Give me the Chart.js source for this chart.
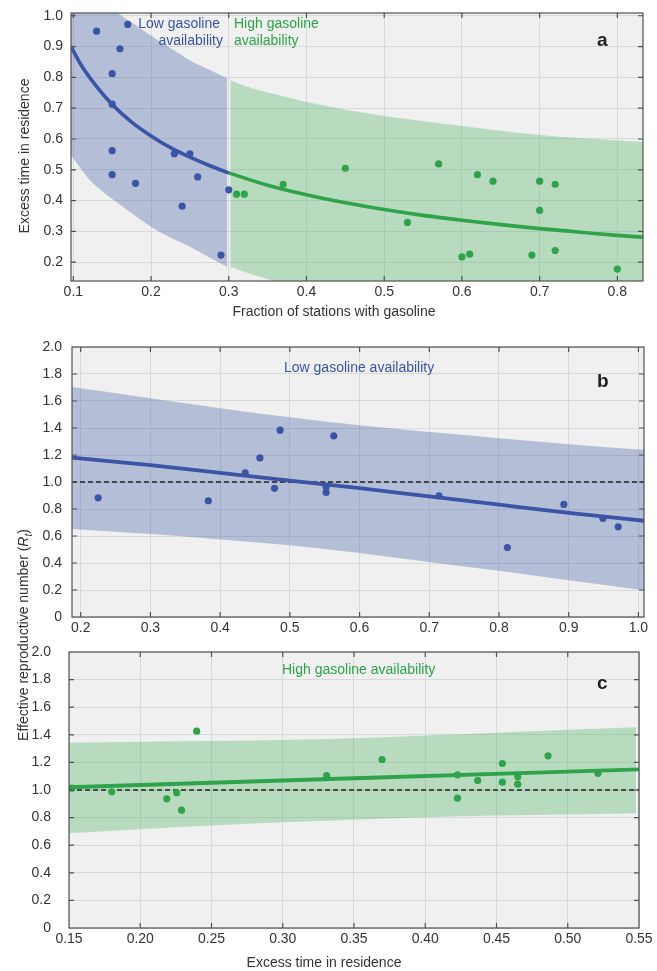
<!DOCTYPE html>
<html><head><meta charset="utf-8">
<script src="https://cdn.jsdelivr.net/npm/chart.js@4.4.1/dist/chart.umd.min.js"></script>
<style>
html,body{margin:0;padding:0;background:#fff;}
body{width:657px;height:971px;position:relative;overflow:hidden;font-family:"Liberation Sans",Arial,sans-serif;}
canvas{position:absolute;left:0;}
.t{position:absolute;font-size:14px;line-height:14px;color:#333;white-space:nowrap;}
.blue{color:#3a55a6;}
.green{color:#2ea34a;}
.lab{position:absolute;font-size:19px;line-height:19px;font-weight:bold;color:#222;}
.rot{transform:translate(-50%,-50%) rotate(-90deg);}
.ctr{transform:translateX(-50%);}
</style></head><body>
<canvas id="ca" width="657" height="305" style="top:0px;width:657px;height:305px"></canvas>
<canvas id="cb" width="657" height="305" style="top:330px;width:657px;height:305px"></canvas>
<canvas id="cc" width="657" height="331" style="top:640px;width:657px;height:331px"></canvas>

<div class="t blue" style="right:437px;top:16px">Low gasoline</div>
<div class="t blue" style="right:434px;top:33px">availability</div>
<div class="t green" style="left:234px;top:16px">High gasoline</div>
<div class="t green" style="left:234px;top:33px">availability</div>
<div class="t blue" style="left:284px;top:360px">Low gasoline availability</div>
<div class="t green" style="left:282px;top:662px">High gasoline availability</div>
<div class="lab" style="left:597px;top:30px">a</div>
<div class="lab" style="left:597px;top:371px">b</div>
<div class="lab" style="left:597px;top:673px">c</div>
<div class="t ctr" style="left:334px;top:304px">Fraction of stations with gasoline</div>
<div class="t ctr" style="left:324px;top:955px">Excess time in residence</div>
<div class="t rot" style="left:24px;top:156px">Excess time in residence</div>
<div class="t rot" style="left:23px;top:635px">Effective reproductive number (<i>R</i><sub style="font-size:10px;line-height:0"><i>t</i></sub>)</div>

<script>
// ---------- Panel a data ----------
const aLowX  = [0.13, 0.17, 0.16, 0.15, 0.15, 0.15, 0.15, 0.18, 0.23, 0.25, 0.26, 0.24, 0.30, 0.29];
const aLowY  = [0.950, 0.972, 0.893, 0.812, 0.713, 0.562, 0.484, 0.456, 0.552, 0.552, 0.477, 0.382, 0.435, 0.223];
const aHighX = [0.31, 0.32, 0.37, 0.45, 0.57, 0.62, 0.64, 0.70, 0.72, 0.70, 0.53, 0.60, 0.61, 0.69, 0.72, 0.80];
const aHighY = [0.421, 0.421, 0.453, 0.505, 0.519, 0.484, 0.463, 0.463, 0.453, 0.368, 0.329, 0.217, 0.226, 0.223, 0.238, 0.178];
const aLowFitX  = [0.097, 0.11, 0.13, 0.15, 0.175, 0.20, 0.225, 0.25, 0.275, 0.30];
const aLowFitY  = [0.90, 0.84, 0.77, 0.712, 0.655, 0.61, 0.572, 0.541, 0.514, 0.49];
const aHighFitX = [0.30, 0.35, 0.40, 0.45, 0.50, 0.55, 0.60, 0.65, 0.70, 0.75, 0.80, 0.833];
const aHighFitY = [0.49, 0.45, 0.419, 0.393, 0.371, 0.352, 0.336, 0.322, 0.309, 0.298, 0.287, 0.281];
const aLowBandX  = [0.097, 0.12, 0.14, 0.156, 0.18, 0.20, 0.225, 0.25, 0.275, 0.298];
const aLowBandUp = [1.16, 1.09, 1.04, 1.01, 0.97, 0.935, 0.895, 0.855, 0.825, 0.797];
const aLowBandLo = [0.548, 0.47, 0.425, 0.395, 0.35, 0.315, 0.28, 0.25, 0.215, 0.185];
const aHighBandX  = [0.302, 0.33, 0.36, 0.40, 0.45, 0.50, 0.60, 0.70, 0.80, 0.833];
const aHighBandUp = [0.79, 0.765, 0.745, 0.72, 0.695, 0.675, 0.642, 0.613, 0.595, 0.591];
const aHighBandLo = [0.185, 0.16, 0.138, 0.11, 0.085, 0.06, 0.02, -0.01, -0.04, -0.05];
const aXRange = [0.097, 0.833];
const aYRange = [0.139, 1.009];
const aXTicks = [0.1, 0.2, 0.3, 0.4, 0.5, 0.6, 0.7, 0.8];
const aXLabels = ["0.1", "0.2", "0.3", "0.4", "0.5", "0.6", "0.7", "0.8"];
const aYTicks = [0.2, 0.3, 0.4, 0.5, 0.6, 0.7, 0.8, 0.9, 1.0];
const aYLabels = ["0.2", "0.3", "0.4", "0.5", "0.6", "0.7", "0.8", "0.9", "1.0"];

// ---------- Panel b data ----------
const bX = [0.225, 0.383, 0.436, 0.457, 0.486, 0.478, 0.552, 0.552, 0.563, 0.714, 0.812, 0.893, 0.949, 0.971];
const bY = [0.883, 0.861, 1.067, 1.178, 1.384, 0.953, 0.923, 0.965, 1.342, 0.898, 0.515, 0.834, 0.730, 0.668];
const bFitX = [0.1875, 0.3, 0.4, 0.5, 0.6, 0.7, 0.8, 0.9, 1.008];
const bFitY = [1.18, 1.125, 1.068, 1.01, 0.955, 0.893, 0.832, 0.772, 0.713];
const bBandX  = [0.1875, 0.3, 0.4, 0.5, 0.6, 0.7, 0.8, 0.9, 1.008];
const bBandUp = [1.703, 1.621, 1.547, 1.48, 1.42, 1.37, 1.325, 1.28, 1.238];
const bBandLo = [0.651, 0.614, 0.575, 0.532, 0.475, 0.408, 0.342, 0.272, 0.198];
const bXRange = [0.1875, 1.008];
const bXTicks = [0.2, 0.3, 0.4, 0.5, 0.6, 0.7, 0.8, 0.9, 1.0];
const bXLabels = ["0.2", "0.3", "0.4", "0.5", "0.6", "0.7", "0.8", "0.9", "1.0"];

// ---------- Panel c data ----------
const cX = [0.152, 0.180, 0.2186, 0.2256, 0.229, 0.2396, 0.3308, 0.3697, 0.4226, 0.4226, 0.4368, 0.4541, 0.4541, 0.4649, 0.4649, 0.4862, 0.5212];
const cY = [1.013, 0.987, 0.936, 0.980, 0.854, 1.426, 1.105, 1.221, 1.110, 0.941, 1.069, 1.192, 1.057, 1.096, 1.042, 1.248, 1.122];
const cFitX = [0.15, 0.35, 0.55];
const cFitY = [1.02, 1.085, 1.149];
const cBandX  = [0.15, 0.20, 0.25, 0.30, 0.35, 0.40, 0.45, 0.50, 0.548];
const cBandUp = [1.342, 1.35, 1.355, 1.362, 1.375, 1.395, 1.415, 1.437, 1.455];
const cBandLo = [0.687, 0.716, 0.743, 0.767, 0.785, 0.803, 0.815, 0.823, 0.832];
const cXRange = [0.15, 0.55];
const cXTicks = [0.15, 0.20, 0.25, 0.30, 0.35, 0.40, 0.45, 0.50, 0.55];
const cXLabels = ["0.15", "0.20", "0.25", "0.30", "0.35", "0.40", "0.45", "0.50", "0.55"];

// shared Rt axis
const rYRange = [0, 2.0];
const rYTicks = [0, 0.2, 0.4, 0.6, 0.8, 1.0, 1.2, 1.4, 1.6, 1.8, 2.0];
const rYLabels = ["0", "0.2", "0.4", "0.6", "0.8", "1.0", "1.2", "1.4", "1.6", "1.8", "2.0"];
const refLevel = 1.0;

// ---------- styling ----------
const BLUE = '#3a55a6', BLUE_BAND = 'rgba(58,83,164,0.32)';
const GREEN = '#2ea34a', GREEN_BAND = 'rgba(52,168,78,0.29)';
const GRID = '#d7d9da', PLOT_BG = '#eff0ef', FRAME = '#505050';

Chart.defaults.font.family = '"Liberation Sans", Arial, sans-serif';
Chart.defaults.font.size = 14;
Chart.defaults.color = '#333';

const pts = (xs, ys) => xs.map((x, i) => ({x: x, y: ys[i]}));

const framePlugin = {
  id: 'frame',
  beforeDraw(chart) {
    const {ctx, chartArea: a} = chart;
    ctx.save();
    ctx.fillStyle = PLOT_BG;
    ctx.fillRect(a.left, a.top, a.right - a.left, a.bottom - a.top);
    ctx.restore();
  },
  afterDraw(chart) {
    const {ctx, chartArea: a, scales} = chart;
    ctx.save();
    ctx.strokeStyle = FRAME;
    ctx.lineWidth = 1.2;
    ctx.strokeRect(a.left, a.top, a.right - a.left, a.bottom - a.top);
    ctx.beginPath();
    const L = 5;
    scales.x.ticks.forEach(t => {
      const p = scales.x.getPixelForValue(t.value);
      if (p <= a.left + 1 || p >= a.right - 1) return;
      ctx.moveTo(p, a.top); ctx.lineTo(p, a.top + L);
      ctx.moveTo(p, a.bottom); ctx.lineTo(p, a.bottom - L);
    });
    scales.y.ticks.forEach(t => {
      const p = scales.y.getPixelForValue(t.value);
      if (p <= a.top + 1 || p >= a.bottom - 1) return;
      ctx.moveTo(a.left, p); ctx.lineTo(a.left + L, p);
      ctx.moveTo(a.right, p); ctx.lineTo(a.right - L, p);
    });
    ctx.stroke();
    ctx.restore();
  }
};

function axis(range, ticks, labels, size, pad) {
  return {
    type: 'linear', min: range[0], max: range[1],
    afterBuildTicks: s => { s.ticks = ticks.map(v => ({value: v})); },
    afterFit: s => {
      if (s.isHorizontal()) s.height = size; else s.width = size;
      s.paddingTop = 0; s.paddingBottom = 0; s.paddingLeft = 0; s.paddingRight = 0;
    },
    ticks: {padding: pad, autoSkip: false, maxRotation: 0, minRotation: 0, color: '#333',
            font: {size: 14}, callback: (v, i) => labels[i]},
    grid: {color: GRID, lineWidth: 1, drawTicks: false},
    border: {display: false}
  };
}

function scatterDs(xs, ys, color) {
  return {data: pts(xs, ys), showLine: false, pointRadius: 3.6, pointBorderWidth: 0,
          pointBackgroundColor: color, pointBorderColor: color, clip: 0};
}
function lineDs(xs, ys, color, w) {
  return {data: pts(xs, ys), borderColor: color, borderWidth: w, pointRadius: 0,
          tension: 0.4, cubicInterpolationMode: 'monotone', fill: false, clip: 0, borderCapStyle: 'butt'};
}
function bandDs(xs, ys, color, fillTarget) {
  return {data: pts(xs, ys), borderColor: 'transparent', borderWidth: 1, pointRadius: 0,
          tension: 0.4, cubicInterpolationMode: 'monotone', backgroundColor: color,
          fill: fillTarget, clip: 0};
}
function refDs(range) {
  return {data: [{x: range[0], y: refLevel}, {x: range[1], y: refLevel}], borderColor: '#222',
          borderWidth: 1.3, borderDash: [5, 3], pointRadius: 0, fill: false, clip: 0};
}

function make(id, datasets, xAxis, yAxis, padding) {
  return new Chart(document.getElementById(id), {
    type: 'line',
    data: {datasets: datasets},
    options: {
      responsive: false, animation: false, events: [],
      layout: {padding: padding},
      plugins: {legend: {display: false}, tooltip: {enabled: false}},
      scales: {x: xAxis, y: yAxis}
    },
    plugins: [framePlugin]
  });
}

// Panel a
make('ca', [
  scatterDs(aLowX, aLowY, BLUE),
  scatterDs(aHighX, aHighY, GREEN),
  lineDs(aLowFitX, aLowFitY, BLUE, 3.6),
  lineDs(aHighFitX, aHighFitY, GREEN, 3.6),
  bandDs(aLowBandX, aLowBandUp, BLUE_BAND, '+1'),
  bandDs(aLowBandX, aLowBandLo, 'transparent', false),
  bandDs(aHighBandX, aHighBandUp, GREEN_BAND, '+1'),
  bandDs(aHighBandX, aHighBandLo, 'transparent', false)
], axis(aXRange, aXTicks, aXLabels, 24, 3), axis(aYRange, aYTicks, aYLabels, 71, 8),
   {left: 0, top: 13, right: 14, bottom: 0});

// Panel b
make('cb', [
  scatterDs(bX, bY, BLUE),
  lineDs(bFitX, bFitY, BLUE, 3.8),
  refDs(bXRange),
  bandDs(bBandX, bBandUp, BLUE_BAND, '+1'),
  bandDs(bBandX, bBandLo, 'transparent', false)
], axis(bXRange, bXTicks, bXLabels, 18, 3), axis(rYRange, rYTicks, rYLabels, 72, 10),
   {left: 0, top: 17, right: 13, bottom: 0});

// Panel c
make('cc', [
  scatterDs(cX, cY, GREEN),
  lineDs(cFitX, cFitY, GREEN, 3.8),
  refDs(cXRange),
  bandDs(cBandX, cBandUp, GREEN_BAND, '+1'),
  bandDs(cBandX, cBandLo, 'transparent', false)
], axis(cXRange, cXTicks, cXLabels, 43, 3), axis(rYRange, rYTicks, rYLabels, 69, 18),
   {left: 0, top: 12, right: 18, bottom: 0});
</script>
</body></html>
